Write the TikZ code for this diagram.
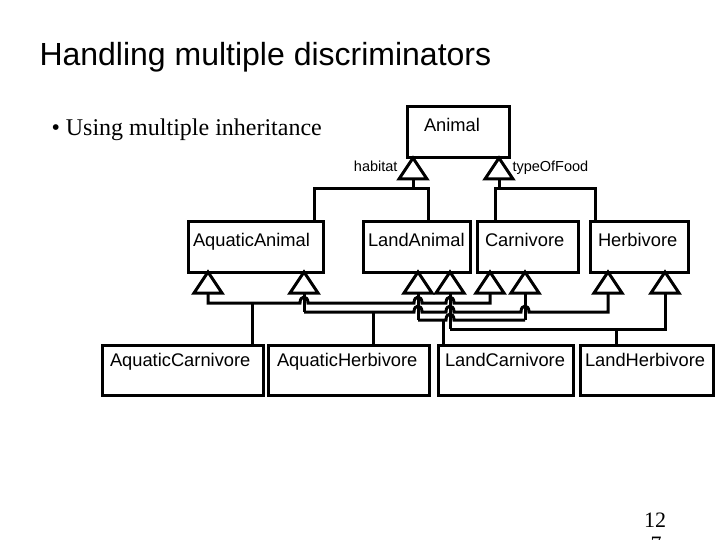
\documentclass[tikz,border=0pt]{standalone}
\usepackage{fontspec}
\setmainfont{Liberation Serif}
\setsansfont{Liberation Sans}
\usetikzlibrary{calc}
\begin{document}
\begin{tikzpicture}[x=1pt,y=-1pt,line width=3pt,
  box/.style={draw,fill=white,rectangle,inner sep=0pt,minimum height=50pt},
  lbl/.style={inner sep=0pt,font=\sffamily\fontsize{18.3}{19}\selectfont},
  small/.style={inner sep=0pt,font=\sffamily\fontsize{14.5}{15}\selectfont},
  tri/.style={draw,fill=white,line join=miter},
  wire/.style={draw,line join=miter}]
\useasboundingbox (0,0) rectangle (720,540);
% title and bullet
\node[inner sep=0pt,anchor=base west,font=\sffamily\fontsize{32}{34}\selectfont] (title) at (38,66) {Handling multiple discriminators};
\node[inner sep=0pt,anchor=base west,font=\fontsize{24}{26}\selectfont] (bullet) at (50,136) {\textbullet\ Using multiple inheritance};
% boxes
\node[box,minimum width=102pt,minimum height=51pt] (AN) at (458,132.5) {};
\node[box,minimum width=135pt] (AA) at (255.5,247) {};
\node[box,minimum width=107pt] (LA) at (416.5,247) {};
\node[box,minimum width=101pt] (CA) at (527.5,247) {};
\node[box,minimum width=98pt]  (HE) at (639,247) {};
\node[box,minimum width=161pt] (AC) at (182.5,370) {};
\node[box,minimum width=161pt] (AH) at (348.5,370) {};
\node[box,minimum width=135pt] (LC) at (505.5,370) {};
\node[box,minimum width=133pt] (LH) at (646.5,370) {};
% labels
\node[lbl,anchor=base] (ANt) at (452,132) {Animal};
\node[lbl,anchor=base west] (AAt) at ($(AA.north west)+(5,26)$) {AquaticAnimal};
\node[lbl,anchor=base west] (LAt) at ($(LA.north west)+(5,26)$) {LandAnimal};
\node[lbl,anchor=base west] (CAt) at ($(CA.north west)+(8,26)$) {Carnivore};
\node[lbl,anchor=base west] (HEt) at ($(HE.north west)+(8,26)$) {Herbivore};
\node[lbl,anchor=base west] (ACt) at ($(AC.north west)+(8,23)$) {AquaticCarnivore};
\node[lbl,anchor=base west] (AHt) at ($(AH.north west)+(9,23)$) {AquaticHerbivore};
\node[lbl,anchor=base west] (LCt) at ($(LC.north west)+(7,23)$) {LandCarnivore};
\node[lbl,anchor=base west] (LHt) at ($(LH.north west)+(5,23)$) {LandHerbivore};
\node[small,anchor=base east] (hab) at (399,172) {habitat};
\node[small,anchor=base west] (tof) at (511,172) {typeOfFood};
% triangle apex coordinates
\coordinate (th) at (413,158);
\coordinate (tf) at (499,158);
\coordinate (a1) at (208,272);
\coordinate (a2) at (304,272);
\coordinate (l1) at (418,272);
\coordinate (l2) at (450,272);
\coordinate (c1) at (490,272);
\coordinate (c2) at (525,272);
\coordinate (h1) at (608,272);
\coordinate (h2) at (665,272);
% top connectors
\draw[wire] ($(th)+(0,21)$) -- (413,189);
\draw[wire] (AA.north -| 314,0) -- (314,189) -- (428,189) -- (LA.north -| 428,0);
\draw[wire] ($(tf)+(0,21)$) -- (499,189);
\draw[wire] (CA.north -| 495,0) -- (495,189) -- (595,189) -- (HE.north -| 595,0);
% verticals from lower triangles
\draw[wire] ($(a2)+(0,21)$) -- (304,312);
\draw[wire] ($(l1)+(0,21)$) -- (418,320);
\draw[wire] ($(l2)+(0,21)$) -- (450,329);
\draw[wire] ($(c2)+(0,21)$) -- (525,320);
% line A: AquaticCarnivore
\draw[wire] (AC.north -| 252,0) -- (252,303);
\draw[wire] ($(a1)+(0,21)$) -- (208,303)
  -- (300,303) .. controls (300,295) and (308,295) .. (308,303)
  -- (414,303) .. controls (414,295) and (422,295) .. (422,303)
  -- (446,303) .. controls (446,295) and (454,295) .. (454,303)
  -- (490,303) -- ($(c1)+(0,21)$);
% line B: AquaticHerbivore
\draw[wire] (AH.north -| 373,0) -- (373,312);
\draw[wire] (304,312)
  -- (414,312) .. controls (414,304) and (422,304) .. (422,312)
  -- (446,312) .. controls (446,304) and (454,304) .. (454,312)
  -- (521,312) .. controls (521,304) and (529,304) .. (529,312)
  -- (608,312) -- ($(h1)+(0,21)$);
% line C: LandCarnivore
\draw[wire] (LC.north -| 443,0) -- (443,320);
\draw[wire] (418,320)
  -- (446,320) .. controls (446,312) and (454,312) .. (454,320)
  -- (525,320);
% line D: LandHerbivore
\draw[wire] (LH.north -| 616,0) -- (616,329);
\draw[wire] (450,329) -- (665,329) -- ($(h2)+(0,21)$);
% triangles
\foreach \t in {th,tf,a1,a2,l1,l2,c1,c2,h1,h2}
  \draw[tri] (\t) -- ++(-14,21) -- ++(28,0) -- cycle;
% page number
\node[inner sep=0pt,anchor=base,font=\fontsize{22}{24}\selectfont] (pg1) at (655,527) {12};
\node[inner sep=0pt,anchor=base,font=\fontsize{22}{24}\selectfont] (pg2) at (656,551) {7};
\end{tikzpicture}
\end{document}
